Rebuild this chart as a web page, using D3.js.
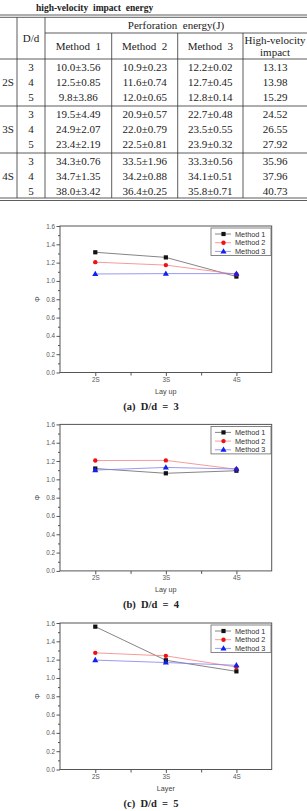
<!DOCTYPE html>
<html>
<head>
<meta charset="utf-8">
<script src="https://cdn.jsdelivr.net/npm/d3@7"></script>
<style>
  html, body { margin: 0; padding: 0; background: #fff; }
  svg { display: block; }
</style>
</head>
<body>
<div id="chart"></div>
<script>
// table data
var layups = ["2S", "3S", "4S"];
var ratios = [3, 4, 5];
var m1Mean = [10.0, 12.5, 9.8, 19.5, 24.9, 23.4, 34.3, 34.7, 38.0];
var m1Sd   = [3.56, 0.85, 3.86, 4.49, 2.07, 2.19, 0.76, 1.35, 3.42];
var m2Mean = [10.9, 11.6, 12.0, 20.9, 22.0, 22.5, 33.5, 34.2, 36.4];
var m2Sd   = [0.23, 0.74, 0.65, 0.57, 0.79, 0.81, 1.96, 0.88, 0.25];
var m3Mean = [12.2, 12.7, 12.8, 22.7, 23.5, 23.9, 33.3, 34.1, 35.8];
var m3Sd   = [0.02, 0.45, 0.14, 0.48, 0.55, 0.32, 0.56, 0.51, 0.71];
var hvi    = [13.13, 13.98, 15.29, 24.52, 26.55, 27.92, 35.96, 37.96, 40.73];

// chart data (phi per lay-up)
var methods = ["Method 1", "Method 2", "Method 3"];
var phi3M1 = [1.313, 1.257, 1.048];
var phi3M2 = [1.205, 1.173, 1.073];
var phi3M3 = [1.076, 1.080, 1.080];
var phi4M1 = [1.118, 1.066, 1.094];
var phi4M2 = [1.205, 1.207, 1.110];
var phi4M3 = [1.101, 1.130, 1.113];
var phi5M1 = [1.560, 1.193, 1.072];
var phi5M2 = [1.274, 1.241, 1.119];
var phi5M3 = [1.195, 1.168, 1.138];
var yTicks = [0.0, 0.2, 0.4, 0.6, 0.8, 1.0, 1.2, 1.4, 1.6];

var width = 307, height = 811;

var svg = d3.select("#chart").append("svg")
    .attr("width", width)
    .attr("height", height);

svg.append("rect").attr("width", width).attr("height", height).attr("fill", "#fff");

// ---------- table ----------
var serif = "'Liberation Serif', 'Times New Roman', serif";
var tbl = svg.append("g").attr("font-family", serif).attr("fill", "#222");
var ink = "#333";

tbl.append("text")
    .attr("x", 36).attr("y", 10.5)
    .attr("font-size", 9.5).attr("font-weight", "bold")
    .style("white-space", "pre")
    .text("high-velocity  impact  energy");

var hline = function(y, x0, x1, w) {
  tbl.append("line").attr("x1", x0).attr("x2", x1).attr("y1", y).attr("y2", y)
      .attr("stroke", ink).attr("stroke-width", w || 0.8);
};
var vline = function(x, y0, y1) {
  tbl.append("line").attr("x1", x).attr("x2", x).attr("y1", y0).attr("y2", y1)
      .attr("stroke", ink).attr("stroke-width", 0.8);
};

hline(15, 0, width); hline(17.3, 0, width);
hline(33, 45, width);
hline(59, 0, width);
hline(106, 0, width);
hline(153, 0, width);
hline(198, 0, width); hline(200.5, 0, width);
vline(17, 17.3, 198); vline(45, 17.3, 198);
vline(111.7, 33, 198); vline(177.7, 33, 198); vline(243, 33, 198);

var cell = function(x, y, t) {
  tbl.append("text").attr("x", x).attr("y", y).attr("dy", "0.35em")
      .attr("text-anchor", "middle").attr("font-size", 11)
      .style("white-space", "pre").text(t);
};
cell(176, 25.5, "Perforation  energy(J)");
cell(31, 38.5, "D/d");
cell(78.3, 46, "Method  1");
cell(144.7, 46, "Method  2");
cell(210.3, 46, "Method  3");
cell(275, 40.5, "High-velocity");
cell(275, 52, "impact");

var fmt = function(m, s) { return m.toFixed(1) + "\u00b1" + s.toFixed(2); };
layups.forEach(function(l, gi) {
  var g0 = 59 + gi * 47;
  cell(8, g0 + 23.5, l);
  ratios.forEach(function(r, ri) {
    var i = gi * 3 + ri, y = g0 + 8 + ri * 15.3;
    cell(31, y, r);
    cell(78.3, y, fmt(m1Mean[i], m1Sd[i]));
    cell(144.7, y, fmt(m2Mean[i], m2Sd[i]));
    cell(210.3, y, fmt(m3Mean[i], m3Sd[i]));
    cell(275, y, hvi[i].toFixed(2));
  });
});

// ---------- charts ----------
var sans = "'Liberation Sans', Arial, sans-serif";
var colors = ["#111", "#f01010", "#1020f0"];
var lineColors = ["#666", "#f58080", "#8080f0"];

function drawChart(top, series, xTitle, caption) {
  var plotH = 146.5;
  var x = d3.scaleLinear().domain([0.5, 3.5]).range([60, 271.7]);
  var y = d3.scaleLinear().domain([0, 1.6]).range([top + plotH, top]);
  var g = svg.append("g").attr("font-family", sans);

  // minor ticks
  var yMinor = d3.range(0.1, 1.6, 0.2);
  g.append("g").attr("transform", "translate(60,0)")
      .call(d3.axisLeft(y).tickValues(yMinor).tickSize(2).tickFormat(""))
      .call(function(a) { a.select(".domain").remove(); a.selectAll("line").attr("stroke", "#555"); });
  g.append("g").attr("transform", "translate(0," + (top + plotH) + ")")
      .call(d3.axisBottom(x).tickValues([1.5, 2.5]).tickSize(3).tickFormat(""))
      .call(function(a) { a.select(".domain").remove(); a.selectAll("line").attr("stroke", "#555"); });

  var ya = g.append("g").attr("transform", "translate(60,0)")
      .call(d3.axisLeft(y).tickValues(yTicks).tickSize(3.5).tickPadding(1.5)
          .tickFormat(d3.format(".1f")));
  var xa = g.append("g").attr("transform", "translate(0," + (top + plotH) + ")")
      .call(d3.axisBottom(x).tickValues([1, 2, 3]).tickSize(3.5).tickPadding(1.5)
          .tickFormat(function(d) { return layups[d - 1]; }));
  [ya, xa].forEach(function(a) {
    a.select(".domain").remove();
    a.selectAll("line").attr("stroke", "#555");
    a.selectAll("text").attr("font-family", sans).attr("font-size", 6.3).attr("fill", "#555");
  });

  // frame
  g.append("rect").attr("x", 60).attr("y", top)
      .attr("width", 211.7).attr("height", plotH)
      .attr("fill", "none").attr("stroke", "#555").attr("stroke-width", 1);

  // titles
  g.append("text").attr("x", 165.8).attr("y", top + plotH + 21.5)
      .attr("text-anchor", "middle").attr("font-size", 7.2).attr("fill", "#444")
      .text(xTitle);
  g.append("text").attr("transform", "translate(40," + (top + plotH / 2) + ") rotate(-90)")
      .attr("text-anchor", "middle").attr("font-size", 7).attr("fill", "#444")
      .text("\u03a6");

  // series
  var line = d3.line().x(function(d, i) { return x(i + 1); }).y(function(d) { return y(d); });
  series.forEach(function(s, k) {
    g.append("path").datum(s).attr("d", line)
        .attr("fill", "none").attr("stroke", lineColors[k]).attr("stroke-width", 0.8);
  });
  series.forEach(function(s, k) {
    s.forEach(function(v, i) { marker(g, k, x(i + 1), y(v)); });
  });

  // legend
  var lx = 211, ly = top + 2;
  g.append("rect").attr("x", lx).attr("y", ly).attr("width", 60).attr("height", 27.5)
      .attr("fill", "#fff").attr("stroke", "#666").attr("stroke-width", 0.8);
  methods.forEach(function(m, k) {
    var yy = ly + 6 + k * 8.7;
    g.append("line").attr("x1", lx + 4).attr("x2", lx + 20).attr("y1", yy).attr("y2", yy)
        .attr("stroke", lineColors[k]).attr("stroke-width", 0.8);
    marker(g, k, lx + 12.5, yy);
    g.append("text").attr("x", lx + 24).attr("y", yy).attr("dy", "0.35em")
        .attr("font-size", 7.3).attr("fill", "#333").text(m);
  });

  // caption
  svg.append("text").attr("x", 151).attr("y", top + plotH + 37)
      .attr("text-anchor", "middle").attr("font-family", serif)
      .attr("font-size", 10.5).attr("font-weight", "bold").attr("fill", "#222")
      .style("white-space", "pre").text(caption);
}

function marker(g, k, cx, cy) {
  if (k === 0) {
    g.append("rect").attr("x", cx - 2.1).attr("y", cy - 2.1).attr("width", 4.2).attr("height", 4.2)
        .attr("fill", colors[0]);
  } else if (k === 1) {
    g.append("circle").attr("cx", cx).attr("cy", cy).attr("r", 2.2).attr("fill", colors[1]);
  } else {
    g.append("path").attr("d", d3.symbol(d3.symbolTriangle, 16)())
        .attr("transform", "translate(" + cx + "," + (cy + 0.3) + ")").attr("fill", colors[2]);
  }
}

drawChart(226, [phi3M1, phi3M2, phi3M3], "Lay up", "(a)  D/d  =  3");
drawChart(424.4, [phi4M1, phi4M2, phi4M3], "Lay up", "(b)  D/d  =  4");
drawChart(623, [phi5M1, phi5M2, phi5M3], "Layer", "(c)  D/d  =  5");
</script>
</body>
</html>
